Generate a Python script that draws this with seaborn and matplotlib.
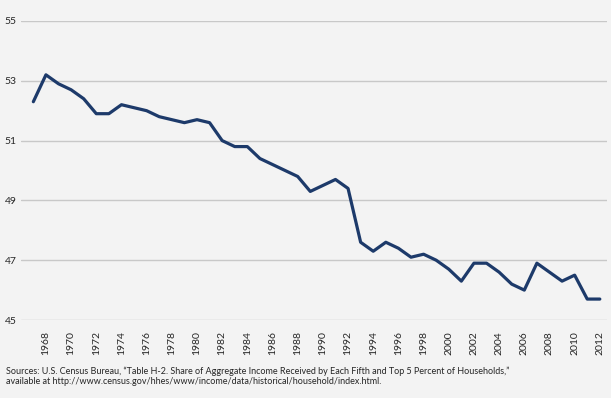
import matplotlib
matplotlib.use("Agg")
import matplotlib.pyplot as plt
import seaborn as sns
import pandas as pd

years = list(range(1967, 2013))
share = [52.3, 53.2, 52.9, 52.7, 52.4, 51.9, 51.9, 52.2, 52.1, 52.0,
         51.8, 51.7, 51.6, 51.7, 51.6, 51.0, 50.8, 50.8, 50.4, 50.2,
         50.0, 49.8, 49.3, 49.5, 49.7, 49.4, 47.6, 47.3, 47.6, 47.4,
         47.1, 47.2, 47.0, 46.7, 46.3, 46.9, 46.9, 46.6, 46.2, 46.0,
         46.9, 46.6, 46.3, 46.5, 45.7, 45.7]
tick_years = list(range(1968, 2013, 2))
y_ticks = [45, 47, 49, 51, 53, 55]
source_line1 = ("Sources: U.S. Census Bureau, \u201cTable H-2. Share of Aggregate Income Received "
                "by Each Fifth and Top 5 Percent of Households,\u201d")
source_line2 = "available at http://www.census.gov/hhes/www/income/data/historical/household/index.html."

df = pd.DataFrame({"year": years, "share": share})

sns.set_style("white")
plt.rcParams['font.family'] = ['Lato', 'DejaVu Sans']

bg = "#f3f3f3"
fig = plt.figure(figsize=(6.11, 3.98), dpi=100, facecolor=bg)
ax = fig.add_axes([21/611, 1-320/398, (607-21)/611, (320-21)/398])
ax.set_facecolor(bg)

sns.lineplot(data=df, x="year", y="share", ax=ax, color="#1d3a6a", linewidth=2.3, zorder=3)

ax.set_xlim(1967 - 0.98, 2012 + 0.57)
ax.set_ylim(45, 55)
ax.set_yticks(y_ticks)
ax.set_yticklabels([str(v) for v in y_ticks], fontsize=7.5, color="#262626")
ax.set_xticks(tick_years)
ax.set_xticklabels([str(v) for v in tick_years], rotation=90, fontsize=7.5, color="#262626")
ax.tick_params(axis="y", length=0, pad=3)
ax.tick_params(axis="x", length=0, pad=8)
ax.grid(axis="y", color="#c8c8c8", linewidth=1)
ax.grid(axis="x", visible=False)
for s in ax.spines.values():
    s.set_visible(False)
ax.set_xlabel("")
ax.set_ylabel("")

fig.text(6/611, 1-373.5/398, source_line1, fontsize=6.5, color="#262626",
         ha="left", va="baseline")
fig.text(6/611, 1-384.5/398, source_line2, fontsize=6.5, color="#262626",
         ha="left", va="baseline")

fig.savefig("out.png", dpi=100, facecolor=bg)
